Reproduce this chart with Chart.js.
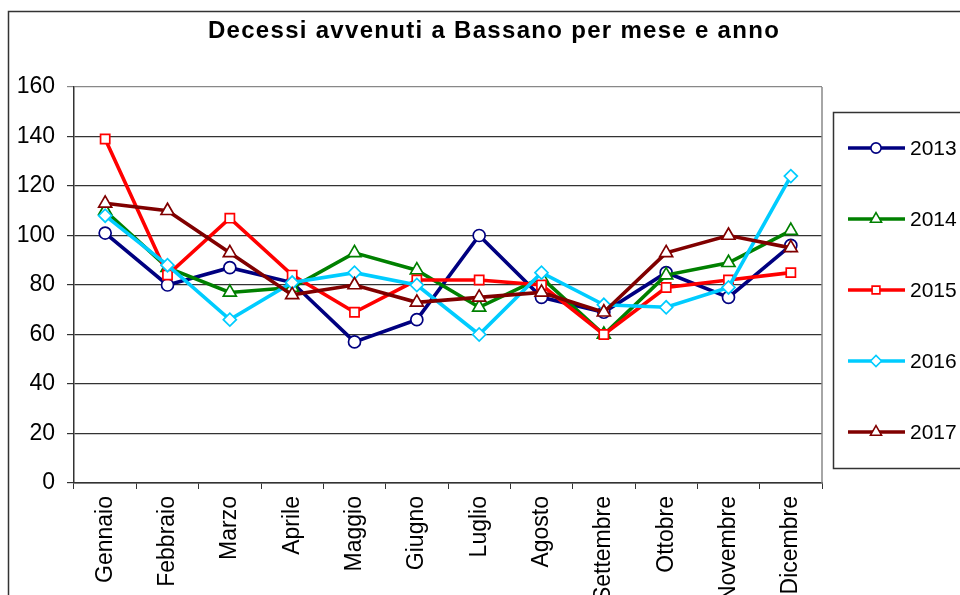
<!DOCTYPE html>
<html>
<head>
<meta charset="utf-8">
<script src="https://cdn.jsdelivr.net/npm/chart.js@4.4.1/dist/chart.umd.min.js"></script>
<style>
  html, body { margin: 0; padding: 0; background: #fff; }
  #wrap { width: 960px; height: 595px; position: relative; }
</style>
</head>
<body>
<div id="wrap"><canvas id="decessiChart"></canvas></div>
<script>
// Dati
const mesi = ['Gennaio', 'Febbraio', 'Marzo', 'Aprile', 'Maggio', 'Giugno',
              'Luglio', 'Agosto', 'Settembre', 'Ottobre', 'Novembre', 'Dicembre'];
const anni = ['2013', '2014', '2015', '2016', '2017'];
const dati2013 = [101, 80, 87, 81, 57, 66, 100, 75, 69, 85, 75, 96];
const dati2014 = [110, 87, 77, 79, 93, 86, 71, 83, 60, 84, 89, 102];
const dati2015 = [139, 84, 107, 84, 69, 82, 82, 80, 60, 79, 82, 85];
const dati2016 = [108, 88, 66, 81, 85, 80, 60, 85, 72, 71, 79, 124];
const dati2017 = [113, 110, 93, 76, 80, 73, 75, 77, 69, 93, 100, 95];
const yTicks = [0, 20, 40, 60, 80, 100, 120, 140, 160];
const titolo = 'Decessi avvenuti a Bassano per mese e anno';

const FONT = "'Liberation Sans', Arial, sans-serif";

// stile delle serie (come in Excel)
const stili = [
    { color: '#000080', point: 'circle', radius: 6 },
    { color: '#008000', point: 'triangle', radius: 7.5 },
    { color: '#ff0000', point: 'rect', radius: 6.5 },
    { color: '#00ccff', point: 'rectRot', radius: 6.5 },
    { color: '#800000', point: 'triangle', radius: 7.5 }
];
const serie = [dati2013, dati2014, dati2015, dati2016, dati2017];

const datasets = serie.map((d, i) => ({
    label: anni[i],
    data: d,
    borderColor: stili[i].color,
    backgroundColor: '#ffffff',
    borderWidth: 3.6,
    pointStyle: stili[i].point,
    pointRadius: stili[i].radius,
    pointBorderWidth: 1.7,
    pointBorderColor: stili[i].color,
    pointBackgroundColor: '#ffffff',
    tension: 0,
    order: serie.length - 1 - i
}));

// cornice, titolo, bordo area e legenda
const decorPlugin = {
    id: 'decor',
    beforeDraw(chart) {
        const c = chart.ctx;
        c.save();
        c.fillStyle = '#fff';
        c.fillRect(0, 0, chart.width, chart.height);
        c.strokeStyle = '#333';
        c.lineWidth = 1.5;
        c.strokeRect(8.5, 11.5, 2000, 2000);
        c.restore();
    },
    afterDraw(chart) {
        const c = chart.ctx;
        const a = chart.chartArea;
        c.save();
        // bordo destro area grafico
        c.strokeStyle = '#888';
        c.lineWidth = 1.5;
        c.beginPath();
        c.moveTo(a.right, a.top);
        c.lineTo(a.right, a.bottom);
        c.stroke();

        // titolo
        c.fillStyle = '#000';
        c.font = 'bold 24px ' + FONT;
        c.textAlign = 'center';
        c.textBaseline = 'alphabetic';
        if ('letterSpacing' in c) c.letterSpacing = '1.3px';
        c.fillText(titolo, 494, 38);
        if ('letterSpacing' in c) c.letterSpacing = '0px';

        // legenda
        c.strokeStyle = '#333';
        c.lineWidth = 1.5;
        c.strokeRect(833.5, 112.5, 300, 356);
        c.font = '21px ' + FONT;
        c.textAlign = 'left';
        c.textBaseline = 'middle';
        chart.data.datasets.forEach((ds, i) => {
            const y = 148 + i * 71;
            c.strokeStyle = ds.borderColor;
            c.lineWidth = 3.6;
            c.beginPath();
            c.moveTo(848, y);
            c.lineTo(905, y);
            c.stroke();
            c.lineWidth = 1.6;
            c.fillStyle = '#fff';
            Chart.helpers.drawPoint(c, {
                pointStyle: ds.pointStyle,
                radius: ds.pointRadius * 0.85,
                rotation: 0,
                borderWidth: 1.6
            }, 876, y);
            c.fillStyle = '#000';
            c.fillText(ds.label, 910, y + 1);
        });
        c.restore();
    }
};

new Chart(document.getElementById('decessiChart'), {
    type: 'line',
    data: { labels: mesi, datasets: datasets },
    options: {
        responsive: true,
        maintainAspectRatio: false,
        animation: false,
        layout: { padding: { left: 8, top: 87, right: 138, bottom: 0 } },
        plugins: {
            legend: { display: false },
            title: { display: false },
            tooltip: { enabled: false }
        },
        scales: {
            y: {
                min: 0,
                max: 160,
                afterBuildTicks: function(scale) {
                    scale.ticks = yTicks.map(v => ({ value: v }));
                },
                afterFit: function(scale) { scale.width = 66; },
                ticks: {
                    color: '#000',
                    font: { family: FONT, size: 23 },
                    padding: 12
                },
                grid: {
                    color: ctx => (ctx.tick && ctx.tick.value === 160) ? '#888' : '#333',
                    lineWidth: 1.2,
                    tickLength: 7
                },
                border: { color: '#333', width: 1.5 }
            },
            x: {
                offset: true,
                afterFit: function(scale) { scale.height = 112; },
                ticks: {
                    color: '#000',
                    font: { family: FONT, size: 23 },
                    minRotation: 90,
                    maxRotation: 90,
                    padding: 7,
                    autoSkip: false
                },
                grid: {
                    offset: true,
                    drawOnChartArea: false,
                    color: '#333',
                    tickLength: 6
                },
                border: { color: '#333', width: 1.5 }
            }
        }
    },
    plugins: [decorPlugin]
});
</script>
</body>
</html>
